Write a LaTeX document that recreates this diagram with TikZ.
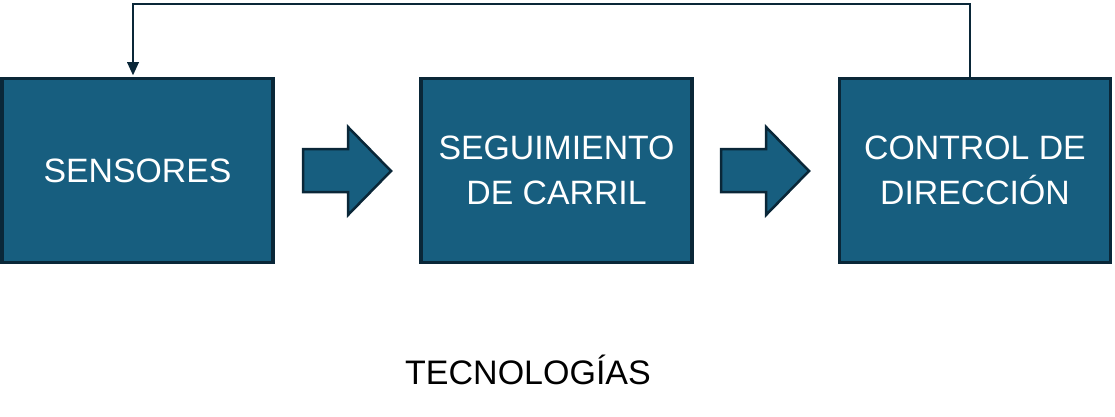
\documentclass[tikz,border=0pt]{standalone}
\usepackage{fontspec}
\setmainfont{Liberation Sans}
\definecolor{boxfill}{HTML}{175E7F}
\definecolor{boxline}{HTML}{0A2738}
\begin{document}
\begin{tikzpicture}[x=1pt,y=-1pt,
  block/.style={draw=boxline,line width=3.5pt,fill=boxfill,minimum width=271pt,minimum height=184pt,
    text=white,align=center,font=\fontsize{33.8}{45}\selectfont,inner sep=0pt},
  bigarrow/.style={draw=boxline,line width=2.5pt,fill=boxfill,line join=miter},
  feedback/.style={draw=boxline,line width=2.5pt}]
\useasboundingbox (0,0) rectangle (1115,417);
\node[block] (s) at (137.5,170.5) {SENSORES};
\node[block] (c) at (556.5,170.5) {SEGUIMIENTO\\DE CARRIL};
\node[block] (d) at (975,170.5) {CONTROL DE\\DIRECCIÓN};
\draw[bigarrow] (303,149) -- (348,149) -- (348,127) -- (391,171) -- (348,215) -- (348,192) -- (303,192) -- cycle;
\draw[bigarrow] (721,149) -- (766,149) -- (766,127) -- (809,171) -- (766,215) -- (766,192) -- (721,192) -- cycle;
\coordinate (ur) at (970,4);
\coordinate (ul) at (133,4);
\coordinate (tip) at ([yshift=1.5pt]s.north -| ul);
\draw[feedback] (d.north -| ur) -- (ur) -- (ul) -- ([yshift=10pt]tip);
\fill[boxline] (tip) -- ++(-6,-13) -- ++(12,0) -- cycle;
\node[font=\fontsize{34}{40}\selectfont,text=black] (t) at (528,370) {TECNOLOGÍAS};
\end{tikzpicture}
\end{document}
